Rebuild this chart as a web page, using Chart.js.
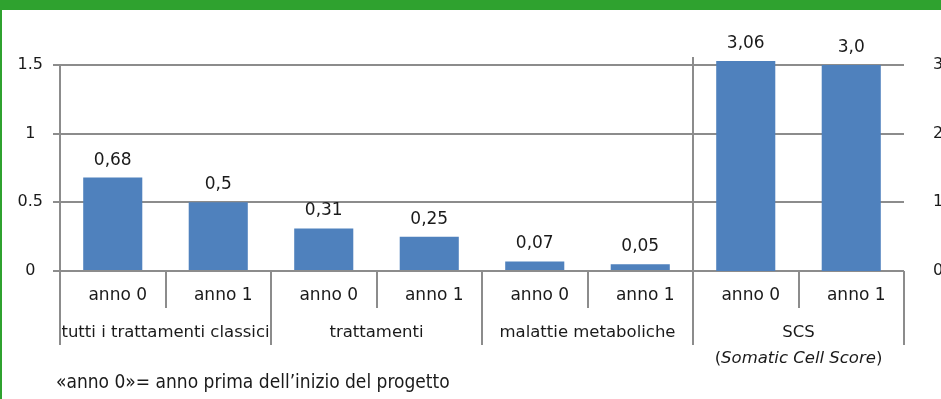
<!DOCTYPE html>
<html>
<head>
<meta charset="utf-8">
<script src="https://cdn.jsdelivr.net/npm/chart.js@4/dist/chart.umd.min.js"></script>
<style>
  html, body { margin: 0; padding: 0; background: #fff; overflow: hidden; }
  #wrap { position: relative; width: 941px; height: 399px; }
  canvas { position: absolute; left: 0; top: 0; }
  #band { position: absolute; left: 0; top: 0; width: 941px; height: 10px; background: #2fa22f; }
  #edge { position: absolute; left: 0; top: 0; width: 2px; height: 399px; background: #2fa22f; }
  #note { position: absolute; left: 56px; top: 370px; font: 19px "DejaVu Sans Condensed", "DejaVu Sans", sans-serif;
          color: #1a1a1a; white-space: nowrap; line-height: 22px; }
</style>
</head>
<body>
<div id="wrap">
  <canvas id="c" width="941" height="399"></canvas>
  <div id="band"></div>
  <div id="edge"></div>
  <div id="note">«anno 0»= anno prima dell’inizio del progetto</div>
</div>
<script>
// Categories: one bar per year, grouped by indicator
const yearLabels  = ['anno 0', 'anno 1', 'anno 0', 'anno 1', 'anno 0', 'anno 1', 'anno 0', 'anno 1'];
const groupLabels = ['tutti i trattamenti classici', 'trattamenti', 'malattie metaboliche', 'SCS'];
const groupNote   = ['(', 'Somatic Cell Score', ')'];

// Left axis series (treatments / diseases) and right axis series (SCS)
const leftValues  = [0.68, 0.5, 0.31, 0.25, 0.07, 0.05, null, null];
const scsValues   = [null, null, null, null, null, null, 3.06, 3.0];
const valueLabels = ['0,68', '0,5', '0,31', '0,25', '0,07', '0,05', '3,06', '3,0'];

// Axis ticks
const leftTicks  = [0, 0.5, 1, 1.5];
const rightTicks = [0, 1, 2, 3];

const BLUE = '#4f81bd';
const GRID = '#8c8c8c';
const INK  = '#1a1a1a';
const FONT = '"DejaVu Sans", sans-serif';

Chart.defaults.font.family = FONT;
Chart.defaults.font.size = 16;
Chart.defaults.color = INK;

const decor = {
  id: 'decor',
  afterDatasetsDraw(chart) {
    const { ctx, chartArea: a, scales: { x } } = chart;
    const n = yearLabels.length;
    const w = (a.right - a.left) / n;
    const bottom = a.bottom;
    ctx.save();
    ctx.strokeStyle = GRID;
    ctx.lineWidth = 2;

    // category dividers below the axis: short within a group, long between groups
    for (let k = 0; k <= n; k++) {
      const px = Math.round(a.left + k * w);
      ctx.beginPath();
      ctx.moveTo(px, bottom);
      ctx.lineTo(px, k % 2 === 0 ? 345 : 308);
      ctx.stroke();
    }

    // divider that separates the SCS group (right axis) from the rest
    const firstScs = scsValues.findIndex(v => v !== null);
    const sx = Math.round(x.getPixelForValue(firstScs) - w / 2);
    ctx.beginPath();
    ctx.moveTo(sx, 57);
    ctx.lineTo(sx, bottom);
    ctx.stroke();

    ctx.fillStyle = INK;
    ctx.textBaseline = 'middle';
    ctx.textAlign = 'center';

    // year labels
    ctx.font = '17px ' + FONT;
    yearLabels.forEach((lab, i) => {
      ctx.fillText(lab, x.getPixelForValue(i) + 5, 296);
    });

    // group labels
    ctx.font = '16.5px ' + FONT;
    groupLabels.forEach((lab, g) => {
      const cx = (x.getPixelForValue(2 * g) + x.getPixelForValue(2 * g + 1)) / 2;
      ctx.fillText(lab, cx, 333);
    });

    // second line of the SCS group, with the italic expansion
    {
      const g = groupLabels.length - 1;
      const cx = (x.getPixelForValue(2 * g) + x.getPixelForValue(2 * g + 1)) / 2;
      const fonts = ['16.5px ' + FONT, 'italic 16.5px ' + FONT, '16.5px ' + FONT];
      let total = 0;
      const widths = groupNote.map((t, i) => { ctx.font = fonts[i]; const m = ctx.measureText(t).width; total += m; return m; });
      let px = cx - total / 2;
      ctx.textAlign = 'left';
      groupNote.forEach((t, i) => { ctx.font = fonts[i]; ctx.fillText(t, px, 359); px += widths[i]; });
    }

    // value labels above each bar
    ctx.textAlign = 'center';
    ctx.textBaseline = 'alphabetic';
    ctx.font = '17px ' + FONT;
    chart.data.datasets.forEach((ds, di) => {
      const meta = chart.getDatasetMeta(di);
      meta.data.forEach((el, i) => {
        if (ds.data[i] === null) return;
        ctx.fillText(valueLabels[i], el.x, el.y - 13);
      });
    });
    ctx.restore();
  }
};

new Chart(document.getElementById('c'), {
  type: 'bar',
  data: {
    labels: yearLabels,
    datasets: [
      { data: leftValues, yAxisID: 'y', backgroundColor: BLUE, grouped: false,
        barPercentage: 0.56, categoryPercentage: 1, clip: false },
      { data: scsValues, yAxisID: 'y1', backgroundColor: BLUE, grouped: false,
        barPercentage: 0.56, categoryPercentage: 1, clip: false }
    ]
  },
  options: {
    responsive: false,
    devicePixelRatio: 1,
    animation: false,
    locale: 'en-US',
    layout: { padding: { top: 65, left: 0, right: 0, bottom: 0 } },
    plugins: { legend: { display: false }, tooltip: { enabled: false } },
    scales: {
      x: {
        ticks: { display: false },
        grid: { display: false, drawTicks: false },
        border: { display: false },
        afterFit: s => { s.height = 128; }
      },
      y: {
        position: 'left',
        min: 0, max: 1.5,
        afterBuildTicks: s => { s.ticks = leftTicks.map(v => ({ value: v })); },
        ticks: { padding: 10, crossAlign: 'center', color: INK, font: { size: 16 },
                 callback: v => String(v) },
        grid: { color: GRID, lineWidth: 2, tickLength: 7, drawTicks: true },
        border: { display: true, color: GRID, width: 2 },
        afterFit: s => { s.width = 60; }
      },
      y1: {
        position: 'right',
        min: 0, max: 3,
        afterBuildTicks: s => { s.ticks = rightTicks.map(v => ({ value: v })); },
        ticks: { padding: 29, color: INK, font: { size: 16 }, callback: v => String(v) },
        grid: { display: false, drawTicks: false },
        border: { display: false },
        afterFit: s => { s.width = 37; }
      }
    }
  },
  plugins: [decor]
});
</script>
</body>
</html>
